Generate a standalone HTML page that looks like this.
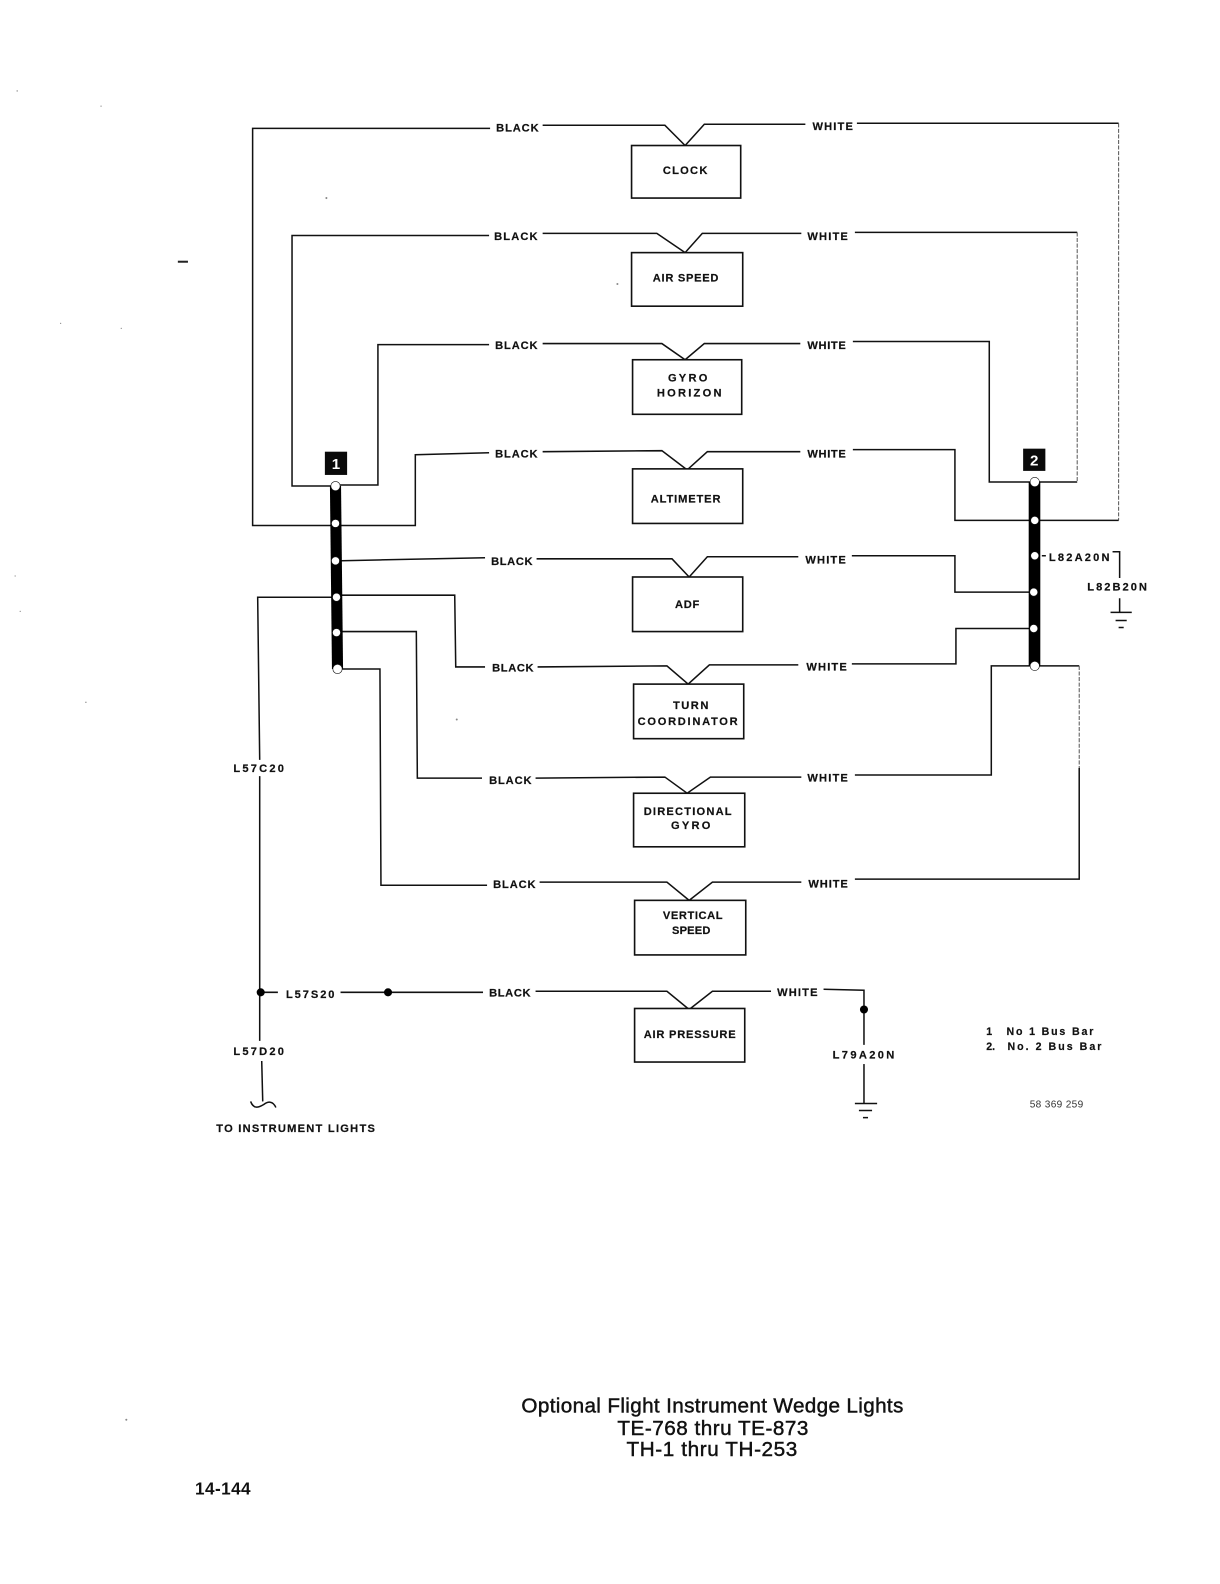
<!DOCTYPE html>
<html>
<head>
<meta charset="utf-8">
<style>
html,body{margin:0;padding:0;background:#fff;}
svg{display:block;}
text{font-family:"Liberation Sans",sans-serif;fill:#111;}
.l{font-size:11px;font-weight:bold;}
.l text{stroke:#111;stroke-width:0.2;}
.w{fill:none;stroke:#111;stroke-width:1.5;stroke-linejoin:miter;}
.f{fill:none;stroke:#555;stroke-width:1;stroke-dasharray:4 1.5;}
.b{fill:#fff;stroke:#111;stroke-width:1.6;}
.c{fill:#fff;stroke:#111;stroke-width:0.6;}
.t{font-size:20.5px;stroke:#111;stroke-width:0.45;}
.scan{filter:blur(0.3px);}
</style>
</head>
<body>
<svg width="1220" height="1584" viewBox="0 0 1220 1584" xmlns="http://www.w3.org/2000/svg">
<rect width="1220" height="1584" fill="#fff"/>
<g transform="scale(1.0105)" class="scan">
<!-- left wires -->
<path class="w" d="M485,127H250V520H332"/>
<path class="w" d="M484,233H289V481H332"/>
<path class="w" d="M484,341H374V480H332"/>
<path class="w" d="M484,448L411,450V520H332"/>
<path class="w" d="M332,555L480,552"/>
<path class="w" d="M480,660H451L450,589H332"/>
<path class="w" d="M477,770H413L412,625H332"/>
<path class="w" d="M482,876H377L376,662H334"/>
<path class="w" d="M332,591H255L257,752"/>
<path class="w" d="M257,768V1030"/>
<path class="w" d="M259,1050L260,1090"/>
<path class="w" d="M248,1090C251,1098 256,1096 261,1093C265,1090 270,1089 273,1096"/>
<path class="w" d="M258,982H275"/>
<path class="w" d="M337,982H478"/>
<!-- centre Vs -->
<path class="w" d="M537,124H658L678,144L697,123H797"/>
<path class="w" d="M537,231H650L678,250L695,231H793"/>
<path class="w" d="M537,340H655L678,356L697,340H792"/>
<path class="w" d="M537,447L655,446L680,465L700,447H792"/>
<path class="w" d="M531,553H665L682,571L700,551H790"/>
<path class="w" d="M532,660L660,659L681,677L702,658H790"/>
<path class="w" d="M530,770L658,769L680,785L703,769H793"/>
<path class="w" d="M534,873H660L682,891L705,873H793"/>
<path class="w" d="M530,981H660L682,999L705,981H763"/>
<!-- right wires -->
<path class="w" d="M848,122H1107"/>
<path class="f" d="M1107,122V515"/>
<path class="w" d="M1107,515H1024"/>
<path class="w" d="M846,230H1066"/>
<path class="f" d="M1066,230V477"/>
<path class="w" d="M1066,477H1024"/>
<path class="w" d="M844,338H979V477H1024"/>
<path class="w" d="M844,445H945V515H1024"/>
<path class="w" d="M843,550H945V586H1024"/>
<path class="w" d="M843,657H946V622H1024"/>
<path class="w" d="M846,767H981V659H1024"/>
<path class="w" d="M1024,659H1068"/>
<path class="f" d="M1068,659V760"/>
<path class="w" d="M1068,760V870H846"/>
<path class="w" d="M815,979L855,980V1034"/>
<path class="w" d="M855,1053V1092"/>
<!-- grounds -->
<path class="w" d="M846,1092H868M850,1099H863M854,1106H859"/>
<path class="w" d="M1101,546H1108V572M1108,592V606M1099,606H1120M1104,614H1115M1107,621H1112M1031,550H1035"/>
<!-- boxes -->
<rect class="b" x="625" y="144" width="108" height="52"/>
<rect class="b" x="625" y="250" width="110" height="53"/>
<rect class="b" x="626" y="356" width="108" height="54"/>
<rect class="b" x="626" y="464" width="109" height="54"/>
<rect class="b" x="626" y="571" width="109" height="54"/>
<rect class="b" x="627" y="677" width="109" height="54"/>
<rect class="b" x="627" y="785" width="110" height="53"/>
<rect class="b" x="628" y="891" width="110" height="54"/>
<rect class="b" x="628" y="998" width="109" height="53"/>
<!-- bus bars -->
<path d="M326.5,481L337.5,481L339.5,662L328.5,662Z" fill="#000"/>
<rect x="1018" y="477" width="11.5" height="182" fill="#000"/>
<circle class="c" cx="332" cy="481" r="4.6"/>
<circle class="c" cx="332" cy="518" r="4"/>
<circle class="c" cx="332" cy="555" r="4"/>
<circle class="c" cx="333" cy="591" r="4"/>
<circle class="c" cx="333" cy="626" r="4"/>
<circle class="c" cx="334" cy="662" r="4.6"/>
<circle class="c" cx="1024" cy="477" r="4.6"/>
<circle class="c" cx="1024" cy="515" r="4"/>
<circle class="c" cx="1024" cy="550" r="4"/>
<circle class="c" cx="1023" cy="586" r="4"/>
<circle class="c" cx="1023" cy="622" r="4"/>
<circle class="c" cx="1024" cy="659" r="4.6"/>
<!-- markers -->
<rect x="321.5" y="447" width="22" height="23" fill="#0a0a0a"/>
<text x="332.5" y="464" font-size="15" font-weight="bold" text-anchor="middle" style="fill:#fff">1</text>
<rect x="1012.5" y="444" width="22" height="22" fill="#0a0a0a"/>
<text x="1023.5" y="460.5" font-size="15" font-weight="bold" text-anchor="middle" style="fill:#fff">2</text>
<!-- dots -->
<circle cx="258" cy="982" r="4" fill="#000"/>
<circle cx="384" cy="982" r="4" fill="#000"/>
<circle cx="855" cy="999" r="4" fill="#000"/>
<!-- wire labels -->
<g class="l">
<text x="491" y="130" textLength="42">BLACK</text>
<text x="489" y="237.5" textLength="43">BLACK</text>
<text x="490" y="345.5" textLength="42">BLACK</text>
<text x="490" y="452.5" textLength="42">BLACK</text>
<text x="486" y="559" textLength="41">BLACK</text>
<text x="487" y="664.5" textLength="41">BLACK</text>
<text x="484" y="776" textLength="42">BLACK</text>
<text x="488" y="879" textLength="42">BLACK</text>
<text x="484" y="986" textLength="41">BLACK</text>
<text x="804" y="128.5" textLength="40">WHITE</text>
<text x="799" y="237.5" textLength="40">WHITE</text>
<text x="799" y="345.5" textLength="38">WHITE</text>
<text x="799" y="452.5" textLength="38">WHITE</text>
<text x="797" y="557.5" textLength="40">WHITE</text>
<text x="798" y="663.5" textLength="40">WHITE</text>
<text x="799" y="773.5" textLength="40">WHITE</text>
<text x="800" y="878.5" textLength="39">WHITE</text>
<text x="769" y="985.5" textLength="40">WHITE</text>
<!-- box labels -->
<text x="656" y="172" textLength="44">CLOCK</text>
<text x="646" y="278.5" textLength="65">AIR SPEED</text>
<text x="661" y="377.5" textLength="39">GYRO</text>
<text x="650" y="392.5" textLength="64">HORIZON</text>
<text x="644" y="497.5" textLength="69">ALTIMETER</text>
<text x="668" y="601.5" textLength="24">ADF</text>
<text x="666" y="701.5" textLength="35">TURN</text>
<text x="631" y="717.5" textLength="99">COORDINATOR</text>
<text x="637" y="806.5" textLength="87">DIRECTIONAL</text>
<text x="664" y="820.5" textLength="39">GYRO</text>
<text x="656" y="909.5" textLength="59">VERTICAL</text>
<text x="665" y="924.5" textLength="38">SPEED</text>
<text x="637" y="1027" textLength="91">AIR PRESSURE</text>
<!-- codes -->
<text x="231" y="764" textLength="50">L57C20</text>
<text x="283" y="987.5" textLength="48">L57S20</text>
<text x="231" y="1044" textLength="50">L57D20</text>
<text x="1038" y="555" textLength="60">L82A20N</text>
<text x="1076" y="584.5" textLength="59">L82B20N</text>
<text x="824" y="1047.5" textLength="61">L79A20N</text>
<text x="214" y="1120" textLength="157">TO INSTRUMENT LIGHTS</text>
<text x="976" y="1024" font-size="10.5">1</text>
<text x="996" y="1024" font-size="10.5" textLength="86">No 1 Bus Bar</text>
<text x="976" y="1039" font-size="10.5">2.</text>
<text x="997" y="1039" font-size="10.5" textLength="93">No. 2 Bus Bar</text>
</g>
<text x="1019" y="1096" font-size="10" textLength="53" style="fill:#333">58 369 259</text>
<!-- title -->
<text class="t" x="516" y="1398" textLength="378">Optional Flight Instrument Wedge Lights</text>
<text class="t" x="611" y="1420" textLength="189">TE-768 thru TE-873</text>
<text class="t" x="620" y="1441" textLength="169">TH-1 thru TH-253</text>
<text x="193" y="1479" font-size="17" font-weight="bold" textLength="55">14-144</text>
<!-- specks -->
<path d="M176,259H186" stroke="#222" stroke-width="2"/>
<g fill="#888">
<circle cx="323" cy="196" r="1"/><circle cx="611" cy="281" r="1"/><circle cx="452" cy="712" r="1"/>
<circle cx="125" cy="1405" r="1"/><circle cx="85" cy="695" r="0.7"/><circle cx="17" cy="90" r="0.7"/>
<circle cx="100" cy="105" r="0.6"/><circle cx="60" cy="320" r="0.6"/><circle cx="120" cy="325" r="0.6"/>
<circle cx="20" cy="605" r="0.6"/><circle cx="15" cy="570" r="0.6"/>
</g>
</g>
</svg>
</body>
</html>
